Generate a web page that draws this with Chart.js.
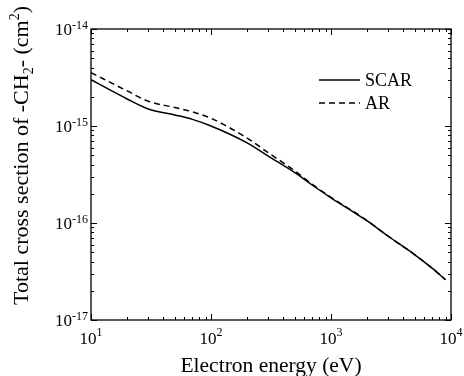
<!DOCTYPE html>
<html>
<head>
<meta charset="utf-8">
<script src="https://cdn.jsdelivr.net/npm/chart.js@4.4.1/dist/chart.umd.min.js"></script>
<style>
  html, body { margin: 0; padding: 0; background: #fff; }
</style>
</head>
<body>
<canvas id="crosschart" width="464" height="376"></canvas>
<script>
// electron energy (eV) and total cross sections (cm^2)
var energies = [10, 20, 30, 50, 70, 100, 200, 300, 500, 700, 1000, 2000, 3000, 5000, 7000, 9000];
var scarValues = [3.0e-15, 1.9e-15, 1.5e-15, 1.3e-15, 1.17e-15, 1.0e-15, 6.7e-16, 4.9e-16, 3.3e-16, 2.45e-16, 1.82e-16, 1.05e-16, 7.3e-17, 4.7e-17, 3.4e-17, 2.6e-17];
var arValues = [3.55e-15, 2.3e-15, 1.8e-15, 1.55e-15, 1.4e-15, 1.2e-15, 7.5e-16, 5.3e-16, 3.45e-16, 2.5e-16, 1.84e-16, 1.06e-16, 7.3e-17, 4.7e-17, 3.4e-17, 2.6e-17];
var xTickExps = [1, 2, 3, 4];
var yTickExps = [-17, -16, -15, -14];

var serif = '"Liberation Serif", "Times New Roman", serif';

function toPoints(xs, ys) {
    return xs.map(function (x, i) { return { x: x, y: ys[i] }; });
}

function drawPower(ctx, exp, x, y, align, raise) {
    var base = '10', sup = String(exp);
    ctx.font = '17px ' + serif;
    var bw = ctx.measureText(base).width;
    ctx.font = '12px ' + serif;
    var sw = ctx.measureText(sup).width;
    var left = align === 'right' ? x - bw - sw : x - (bw + sw) / 2;
    ctx.textAlign = 'left';
    ctx.textBaseline = 'alphabetic';
    ctx.font = '17px ' + serif;
    ctx.fillText(base, left, y);
    ctx.font = '12px ' + serif;
    ctx.fillText(sup, left + bw, y - raise);
}

// draw text made of pieces: [text, size, shift]; anchor 'center' or 'start'
function drawPieces(ctx, pieces, x, y, anchor) {
    var total = 0;
    pieces.forEach(function (p) {
        ctx.font = p[1] + 'px ' + serif;
        total += ctx.measureText(p[0]).width;
    });
    if (anchor === 'center') x -= total / 2;
    ctx.textAlign = 'left';
    ctx.textBaseline = 'alphabetic';
    pieces.forEach(function (p) {
        ctx.font = p[1] + 'px ' + serif;
        ctx.fillText(p[0], x, y + p[2]);
        x += ctx.measureText(p[0]).width;
    });
}

function minorValues(scale) {
    var out = [];
    var lo = Math.floor(Math.log10(scale.min)), hi = Math.ceil(Math.log10(scale.max));
    for (var d = lo; d <= hi; d++) {
        for (var m = 1; m <= 9; m++) {
            var v = m * Math.pow(10, d);
            if (v >= scale.min * 0.999 && v <= scale.max * 1.001) out.push({ v: v, major: m === 1 });
        }
    }
    return out;
}

var framePlugin = {
    id: 'frame',
    afterDraw: function (chart) {
        var ctx = chart.ctx, a = chart.chartArea;
        var xs = chart.scales.x, ys = chart.scales.y;
        ctx.save();
        ctx.strokeStyle = '#000';
        ctx.fillStyle = '#000';
        ctx.lineWidth = 1.3;
        ctx.strokeRect(a.left, a.top, a.right - a.left, a.bottom - a.top);

        // inward ticks on all four sides
        ctx.lineWidth = 1;
        ctx.beginPath();
        minorValues(xs).forEach(function (t) {
            var px = Math.round(xs.getPixelForValue(t.v)) + 0.5;
            var len = t.major ? 6 : 3;
            ctx.moveTo(px, a.bottom); ctx.lineTo(px, a.bottom - len);
            ctx.moveTo(px, a.top); ctx.lineTo(px, a.top + len);
        });
        minorValues(ys).forEach(function (t) {
            var py = Math.round(ys.getPixelForValue(t.v)) + 0.5;
            var len = t.major ? 6 : 3;
            ctx.moveTo(a.left, py); ctx.lineTo(a.left + len, py);
            ctx.moveTo(a.right, py); ctx.lineTo(a.right - len, py);
        });
        ctx.stroke();

        // tick labels
        xTickExps.forEach(function (e) {
            var px = xs.getPixelForValue(Math.pow(10, e));
            drawPower(ctx, e, px, a.bottom + 24, 'center', 8);
        });
        yTickExps.forEach(function (e) {
            var py = ys.getPixelForValue(Math.pow(10, e));
            drawPower(ctx, e, a.left - 3, py + 6, 'right', 6);
        });

        // axis titles
        drawPieces(ctx, [['Electron energy (eV)', 21.5, 0]], (a.left + a.right) / 2, 372, 'center');
        ctx.save();
        ctx.translate(27.5, 305);
        ctx.rotate(-Math.PI / 2);
        drawPieces(ctx, [
            ['Total cross section of -CH', 22, 0],
            ['2', 14, 5],
            ['- (cm', 22, 0],
            ['2', 14, -9],
            [')', 22, 0]
        ], 0, 0, 'start');
        ctx.restore();

        // legend
        var lx0 = 319, lx1 = 360, rows = [80, 103];
        chart.data.datasets.forEach(function (ds, i) {
            ctx.beginPath();
            ctx.lineWidth = 1.5;
            ctx.setLineDash(ds.borderDash || []);
            ctx.moveTo(lx0, rows[i]); ctx.lineTo(lx1, rows[i]);
            ctx.stroke();
            ctx.setLineDash([]);
            ctx.font = '18px ' + serif;
            ctx.textAlign = 'left';
            ctx.fillText(ds.label, 365, rows[i] + 6);
        });
        ctx.restore();
    }
};

var ctx = document.getElementById('crosschart').getContext('2d');
var crosschart = new Chart(ctx, {
    type: 'line',
    data: {
        datasets: [{
            label: 'SCAR',
            data: toPoints(energies, scarValues),
            borderColor: '#000',
            borderWidth: 1.5,
            pointRadius: 0,
            cubicInterpolationMode: 'monotone',
            fill: false
        }, {
            label: 'AR',
            data: toPoints(energies, arValues),
            borderColor: '#000',
            borderWidth: 1.5,
            borderDash: [6, 4],
            pointRadius: 0,
            cubicInterpolationMode: 'monotone',
            fill: false
        }]
    },
    options: {
        responsive: false,
        animation: false,
        devicePixelRatio: 1,
        layout: { padding: { left: 91, top: 29, right: 13, bottom: 56 } },
        plugins: { legend: { display: false }, tooltip: { enabled: false } },
        scales: {
            x: {
                type: 'logarithmic', min: 10, max: 10000,
                ticks: { display: false },
                grid: { display: false },
                border: { display: false },
                afterFit: function (s) { s.height = 0; }
            },
            y: {
                type: 'logarithmic', min: 1e-17, max: 1e-14,
                ticks: { display: false },
                grid: { display: false },
                border: { display: false },
                afterFit: function (s) { s.width = 0; }
            }
        }
    },
    plugins: [framePlugin]
});
</script>
</body>
</html>
